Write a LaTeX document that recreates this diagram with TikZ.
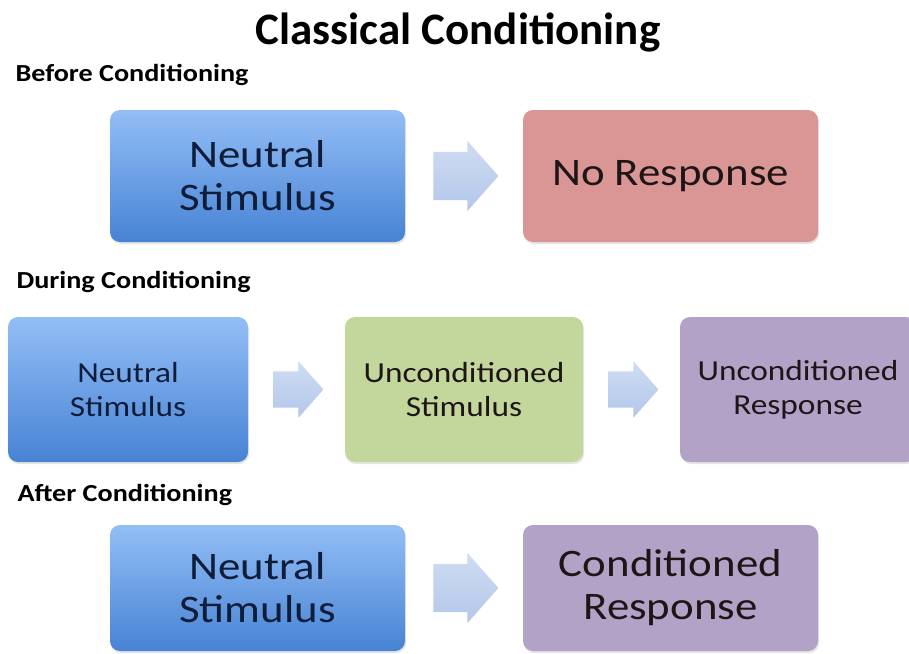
\documentclass[tikz,border=0pt]{standalone}
\usepackage{fontspec}
\setmainfont{Carlito}
\newfontfamily\widefont[FakeStretch=1.15]{Carlito}
\usetikzlibrary{shapes.arrows,shadows,calc}

\definecolor{bluetop}{HTML}{93BEF6}
\definecolor{bluebot}{HTML}{4783D4}
\definecolor{rosebox}{HTML}{D99694}
\definecolor{greenbox}{HTML}{C3D69B}
\definecolor{purplebox}{HTML}{B3A2C7}
\definecolor{navytext}{HTML}{0F1D3A}
\definecolor{darktext}{HTML}{1E1616}
\definecolor{arrowtop}{HTML}{CFDCF2}
\definecolor{arrowbot}{HTML}{B3C7EA}

\tikzset{
  box/.style={rounded corners=10pt, inner sep=0pt, align=center,
    drop shadow={opacity=0.2, shadow xshift=1pt, shadow yshift=-2pt}},
  bluebox/.style={box, top color=bluetop, bottom color=bluebot, text=navytext},
  flatbox/.style={box, fill=#1, text=darktext},
  bigbox/.style={minimum width=295pt, font=\widefont\fontsize{39}{43}\selectfont},
  smallbox/.style={minimum height=145pt, font=\widefont\fontsize{29}{34}\selectfont},
  bigarrow/.style={single arrow, draw=none, top color=arrowtop, bottom color=arrowbot,
    anchor=tail, inner xsep=0pt, inner ysep=24pt, single arrow head extend=11pt,
    single arrow tip angle=97, minimum height=65pt},
  smallarrow/.style={bigarrow, inner ysep=18pt, single arrow head extend=10pt,
    minimum height=50pt},
  heading/.style={anchor=base west, font=\widefont\bfseries\fontsize{24.5}{30}\selectfont}
}

\begin{document}
\begin{tikzpicture}[x=1pt, y=-1pt]
\useasboundingbox (0,0) rectangle (909,653);
\fill[white] (0,0) rectangle (909,653);
\clip (0,0) rectangle (909,653);

\node [anchor=base, font=\bfseries\fontsize{45}{52}\selectfont] (title) at (458,44) {Classical Conditioning};

% before conditioning
\node [heading] (before) at (12,81) {Before Conditioning};
\node [bluebox, bigbox, minimum height=132pt] (ns1) at (257.5,176) {Neutral\\Stimulus};
\node [flatbox=rosebox, bigbox, minimum height=132pt] (nr) at (670.5,176) {No Response};
\node [bigarrow] (a1) at ($(ns1.east)+(28,0)$) {};

% during conditioning
\node [heading] (during) at (13,288) {During Conditioning};
\node [bluebox, smallbox, minimum width=240pt] (ns2) at (128,389.5) {Neutral\\Stimulus};
\node [flatbox=greenbox, smallbox, minimum width=238pt] (us) at (464,389.5) {Unconditioned\\Stimulus};
\node [flatbox=purplebox, smallbox, minimum width=236pt] (ur) at (798,389.5) {Unconditioned\\Response};
\node [smallarrow] (a2) at ($(ns2.east)+(25,0)$) {};
\node [smallarrow] (a3) at ($(us.east)+(25,0)$) {};

% after conditioning
\node [heading] (after) at (14,501) {After Conditioning};
\node [bluebox, bigbox, minimum height=126pt] (ns3) at (257.5,588) {Neutral\\Stimulus};
\node [flatbox=purplebox, bigbox, minimum height=126pt] (cr) at (670.5,588) {Conditioned\\Response};
\node [bigarrow] (a4) at ($(ns3.east)+(28,0)$) {};
\end{tikzpicture}
\end{document}
